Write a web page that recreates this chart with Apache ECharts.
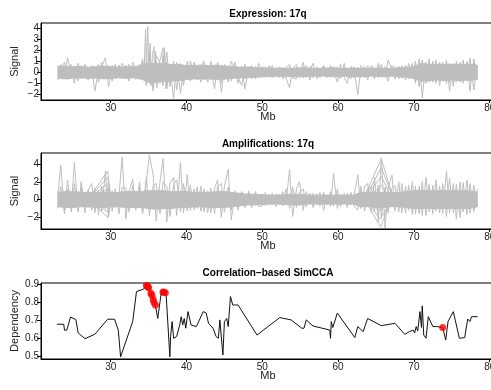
<!DOCTYPE html>
<html>
<head>
<meta charset="utf-8">
<script src="https://cdn.jsdelivr.net/npm/echarts@6/dist/echarts.min.js"></script>
<style>html,body{margin:0;padding:0;background:#fff}#c{width:491px;height:390px}</style>
</head>
<body>
<div id="c"></div>
<script>
// ---------- data ----------
const xTicks = [30, 40, 50, 60, 70, 80];
const exprTicks = [-2, -1, 0, 1, 2, 3, 4];
const ampTicks = [-2, 0, 2, 4];
const depTicks = [0.5, 0.6, 0.7, 0.8, 0.9];

const probeMb = [
  23.0, 23.4, 23.9, 24.3, 24.8, 25.2, 25.7, 26.1, 26.6, 27.0,
  27.5, 27.9, 28.4, 28.8, 29.3, 29.7, 30.2, 30.6, 31.1, 31.5,
  32.0, 32.4, 32.9, 33.3, 33.8, 34.2, 34.7, 35.1, 35.6, 36.0,
  36.5, 36.9, 37.4, 37.8, 38.3, 38.7, 39.2, 39.6, 40.1, 40.5,
  41.0, 41.4, 41.9, 42.3, 42.8, 43.2, 43.7, 44.1, 44.6, 45.0,
  45.5, 45.9, 46.4, 46.8, 47.3, 47.7, 48.2, 48.6, 49.1, 49.5,
  50.0, 50.4, 50.9, 51.3, 51.8, 52.2, 52.7, 53.1, 53.6, 54.0,
  54.5, 54.9, 55.4, 55.8, 56.3, 56.7, 57.2, 57.6, 58.1, 58.5,
  59.0, 59.4, 59.9, 60.3, 60.8, 61.2, 61.7, 62.1, 62.6, 63.0,
  63.5, 63.9, 64.4, 64.8, 65.3, 65.7, 66.2, 66.6, 67.1, 67.5,
  68.0, 68.4, 68.9, 69.3, 69.8, 70.2, 70.7, 71.1, 71.6, 72.0,
  72.5, 72.9, 73.4, 73.8, 74.3, 74.7, 75.2, 75.6, 76.1, 76.5,
  77.0, 77.4, 77.9, 78.4
];

// dense core of the sample curves (upper / lower edge of the gray band)
const bandMb = [
  23.0, 24, 25, 26, 27, 28, 29, 30, 31, 32,
  33, 34, 35, 36, 37, 38, 39, 40, 41, 42,
  43, 44, 45, 46, 47, 48, 49, 50, 51, 52,
  53, 54, 55, 56, 57, 58, 59, 60, 61, 62,
  63, 64, 65, 66, 67, 68, 69, 70, 71, 72,
  73, 74, 75, 76, 77, 78, 78.4
];
const exprHigh = [
  0.5,0.55,0.5,0.5,0.45,0.5,0.55,0.5,0.45,0.5,
  0.5,0.6,0.8,0.8,0.75,0.7,0.7,0.6,0.6,0.65,
  0.6,0.6,0.55,0.5,0.45,0.45,0.4,0.4,0.35,0.35,
  0.35,0.35,0.4,0.35,0.35,0.35,0.4,0.35,0.35,0.35,
  0.35,0.35,0.35,0.35,0.35,0.4,0.4,0.5,0.8,0.7,
  0.7,0.7,0.7,0.7,0.7,0.7,0.6
];
const exprLow = [
  -0.55,-0.6,-0.55,-0.5,-0.55,-0.5,-0.6,-0.55,-0.5,-0.55,
  -0.5,-0.6,-0.9,-0.9,-0.8,-0.8,-0.75,-0.65,-0.6,-0.6,
  -0.6,-0.65,-0.6,-0.55,-0.5,-0.5,-0.45,-0.4,-0.4,-0.35,
  -0.4,-0.4,-0.4,-0.4,-0.35,-0.35,-0.4,-0.4,-0.35,-0.4,
  -0.4,-0.35,-0.35,-0.4,-0.35,-0.4,-0.45,-0.55,-0.8,-0.75,
  -0.7,-0.75,-0.7,-0.75,-0.7,-0.7,-0.6
];
const ampHigh = [
  0.8,0.9,0.9,0.8,0.8,0.8,0.8,0.8,0.8,0.9,
  0.9,0.9,1.0,1.0,1.0,0.9,0.9,0.9,0.8,0.8,
  0.8,0.9,0.9,0.8,0.7,0.6,0.6,0.55,0.5,0.5,
  0.55,0.6,0.6,0.5,0.5,0.5,0.5,0.5,0.5,0.5,
  0.8,0.8,0.8,0.8,0.8,0.8,0.9,1.0,1.0,1.0,
  1.0,1.0,1.0,1.0,1.0,0.9,0.8
];
const ampLow = [
  -0.8,-0.9,-0.9,-0.8,-0.8,-0.9,-0.9,-0.8,-0.8,-0.9,
  -0.9,-0.9,-1.0,-1.1,-1.0,-1.0,-0.9,-0.9,-0.8,-0.8,
  -0.9,-0.9,-0.9,-0.8,-0.7,-0.6,-0.6,-0.55,-0.5,-0.5,
  -0.55,-0.6,-0.6,-0.5,-0.5,-0.5,-0.5,-0.5,-0.5,-0.5,
  -0.8,-0.8,-0.9,-0.9,-0.8,-0.8,-0.9,-1.0,-1.0,-1.0,
  -1.0,-1.0,-1.0,-1.0,-1.0,-0.9,-0.8
];

const exprA = [
  0.6,-0.6,0.55,-0.65,0.7,-0.55,0.6,-0.6,0.65,-0.7,
  0.6,-0.55,0.7,-0.6,0.55,-0.65,0.6,-0.6,0.65,-0.55,
  0.6,-0.6,0.55,-0.65,0.7,-0.7,0.9,-1.0,0.8,-0.9,
  0.7,-0.8,0.9,-0.7,0.65,-0.8,0.7,-0.75,0.6,-0.65,
  0.7,-0.6,0.65,-0.7,0.6,-0.65,0.7,-0.6,0.65,-0.7,
  0.6,-0.55,0.6,-0.6,0.55,-0.6,0.5,-0.55,0.5,-0.5,
  0.5,-0.45,0.5,-0.5,0.45,-0.5,0.45,-0.45,0.5,-0.5,
  0.45,-0.5,0.5,-0.45,0.5,-0.5,0.45,-0.45,0.5,-0.5,
  0.5,-0.45,0.5,-0.5,0.45,-0.45,0.5,-0.5,0.45,-0.5,
  0.5,-0.45,0.45,-0.5,0.5,-0.45,0.5,-0.5,0.45,-0.5,
  0.5,-0.55,0.6,-0.6,0.65,-0.8,0.9,-0.85,0.8,-0.9,
  0.8,-0.85,0.9,-0.8,0.85,-0.9,0.8,-0.85,0.9,-0.8,
  0.85,-0.8,0.8,-0.7
];
const exprB = [
  -0.35,0.4,-0.4,0.3,-0.35,0.45,-0.4,0.35,-0.3,0.4,
  -0.4,0.35,-0.3,0.4,-0.45,0.35,-0.4,0.3,-0.35,0.4,
  -0.35,0.4,-0.4,0.35,-0.45,0.5,-0.6,0.7,-0.55,0.6,
  -0.5,0.55,-0.6,0.5,-0.45,0.5,-0.55,0.45,-0.4,0.45,
  -0.45,0.4,-0.5,0.45,-0.4,0.45,-0.5,0.4,-0.45,0.5,
  -0.4,0.35,-0.4,0.4,-0.35,0.4,-0.3,0.35,-0.3,0.3,
  -0.3,0.3,-0.25,0.3,-0.3,0.25,-0.3,0.3,-0.25,0.3,
  -0.3,0.25,-0.3,0.3,-0.25,0.3,-0.3,0.25,-0.3,0.3,
  -0.25,0.3,-0.3,0.25,-0.3,0.3,-0.25,0.3,-0.3,0.25,
  -0.3,0.3,-0.25,0.3,-0.3,0.25,-0.3,0.3,-0.25,0.3,
  -0.3,0.35,-0.4,0.4,-0.45,0.55,-0.6,0.6,-0.55,0.6,
  -0.55,0.6,-0.6,0.55,-0.6,0.6,-0.55,0.6,-0.6,0.55,
  -0.6,0.55,-0.5,0.5
];
const exprC = [
  0.1,0.7,-0.2,1.3,-0.1,0.2,-0.8,0.6,0.0,-0.3,
  0.3,-1.7,0.2,0.5,1.3,-1.3,0.1,-0.4,0.6,0.0,
  -0.2,0.7,0.1,-0.4,0.3,1.0,-1.2,0.5,-1.7,1.0,
  -1.0,1.5,-1.5,0.6,-2.4,0.9,-1.9,0.4,-0.6,1.0,
  0.0,-0.7,0.5,1.0,-0.9,0.3,-1.5,0.8,-1.8,0.4,
  -0.9,1.0,0.2,-1.0,0.5,-1.5,0.3,0.6,-0.3,0.8,
  0.0,-0.4,0.6,0.1,-0.3,0.5,0.2,-0.5,-1.4,0.3,
  0.7,-0.2,0.9,-0.3,0.2,0.8,-0.6,0.3,0.5,-0.4,
  0.6,0.1,-0.9,0.7,-0.4,-1.0,0.5,0.2,-2.0,0.3,
  -0.5,0.6,0.1,-0.6,0.8,0.0,-0.4,1.1,0.2,-0.6,
  0.5,-0.5,0.6,0.0,0.8,-1.0,1.2,-2.3,0.9,-0.8,
  1.0,-1.0,0.7,-0.8,1.1,-1.7,0.6,-0.9,0.8,-1.0,
  1.0,-1.7,1.2,-0.5
];
const exprD = [
  -0.7,0.3,0.9,-0.4,0.5,-1.0,0.8,-0.2,0.7,0.2,
  -0.6,0.4,-0.9,0.9,-0.5,0.6,-0.8,0.7,-0.3,0.8,
  0.4,-0.8,0.9,0.2,-0.7,1.2,-1.0,2.0,-1.3,1.5,
  0.9,-1.2,1.8,-1.3,1.0,-1.6,0.8,-1.2,1.0,-0.8,
  0.9,0.1,-0.9,0.7,-0.5,1.0,-0.6,0.9,-1.0,0.7,
  0.2,-0.8,0.9,-0.5,-1.2,0.7,-0.3,0.5,-0.6,0.3,
  -0.5,0.5,-0.3,0.6,-0.4,0.2,-0.6,0.4,0.7,-0.5,
  -0.6,0.3,-0.5,0.6,-0.7,0.2,0.4,-0.5,0.6,-0.2,
  -0.4,0.5,0.3,-0.6,0.8,-0.3,-0.6,0.5,-0.4,0.6,
  0.3,-0.7,0.6,0.4,-0.5,0.7,-0.3,-0.8,0.6,0.4,
  -0.6,0.6,-0.7,0.8,-0.6,1.0,-1.3,1.1,-1.0,1.2,
  -0.9,1.1,-1.2,0.9,-1.0,0.8,-1.3,1.0,-0.9,1.1,
  -0.8,1.3,-1.6,0.6
];
const exprPeakMb = [34.4,34.6,34.7,34.9,35.0,35.2,35.3,35.5,35.7,35.8,35.9,36.1,36.4,36.9,37.0,37.1,37.3,37.6];
const exprPeakVal = [0.0,3.9,0.2,4.1,-0.5,2.6,-1.2,1.5,2.3,-0.8,1.9,-1.4,0.8,2.2,-0.4,2.2,-1.5,0.3];

const ampA = [
  0.9,-0.8,0.8,-0.9,0.85,-0.8,0.9,-0.85,0.8,-0.9,
  0.85,-0.9,0.8,-0.85,0.9,-0.8,0.85,-0.9,0.8,-0.85,
  0.9,-0.8,0.85,-0.9,0.8,-0.95,1.0,-1.0,0.95,-1.0,
  1.0,-0.95,0.9,-1.0,0.95,-0.9,1.0,-0.95,0.9,-0.85,
  0.8,-0.9,0.85,-0.8,0.9,-0.85,0.8,-0.9,0.95,-0.9,
  0.85,-0.8,0.7,-0.75,0.7,-0.7,0.65,-0.7,0.65,-0.6,
  0.6,-0.6,0.55,-0.6,0.55,-0.55,0.6,-0.6,0.65,-0.6,
  0.6,-0.65,0.6,-0.55,0.6,-0.6,0.55,-0.6,0.6,-0.55,
  0.6,-0.6,0.65,-0.6,0.55,-0.6,0.6,-0.55,0.6,-0.7,
  0.8,-0.8,0.85,-0.9,0.9,-1.0,0.9,-0.8,0.8,-0.75,
  0.8,-0.85,0.9,-0.9,0.95,-1.0,1.0,-0.95,1.0,-1.0,
  0.95,-1.0,1.0,-0.95,1.0,-1.0,0.95,-1.0,1.0,-0.95,
  1.0,-0.95,0.9,-0.8
];
const ampB = [
  -0.6,0.55,-0.6,0.5,-0.55,0.6,-0.5,0.55,-0.6,0.5,
  -0.55,0.6,-0.5,0.55,-0.6,0.5,-0.55,0.6,-0.5,0.55,
  -0.6,0.5,-0.55,0.6,-0.5,0.65,-0.7,0.7,-0.65,0.7,
  -0.7,0.65,-0.6,0.7,-0.65,0.6,-0.7,0.65,-0.6,0.55,
  -0.5,0.6,-0.55,0.5,-0.6,0.55,-0.5,0.6,-0.65,0.6,
  -0.55,0.5,-0.45,0.45,-0.45,0.4,-0.4,0.45,-0.4,0.35,
  -0.35,0.35,-0.3,0.35,-0.3,0.3,-0.35,0.35,-0.4,0.35,
  -0.35,0.4,-0.35,0.3,-0.35,0.35,-0.3,0.35,-0.35,0.3,
  -0.35,0.35,-0.4,0.35,-0.3,0.35,-0.35,0.3,-0.35,0.45,
  -0.5,0.5,-0.55,0.6,-0.6,0.7,-0.6,0.5,-0.5,0.45,
  -0.5,0.55,-0.6,0.6,-0.65,0.7,-0.7,0.65,-0.7,0.7,
  -0.65,0.7,-0.7,0.65,-0.7,0.7,-0.65,0.7,-0.7,0.65,
  -0.7,0.65,-0.6,0.5
];
const ampC = [
  0.2,3.9,-1.2,2.2,-1.0,4.2,-1.4,2.0,-0.8,1.0,
  1.8,-1.5,1.0,-1.3,3.2,-2.0,1.0,-0.8,0.5,4.8,
  -2.2,0.9,2.3,-1.0,1.5,-1.6,2.0,5.0,2.8,-2.4,
  2.0,4.6,-2.5,1.8,2.5,-1.8,4.2,-1.5,2.8,-1.2,
  1.2,-1.0,1.5,-1.4,1.0,-1.5,1.3,2.2,-2.0,1.5,
  3.4,-2.3,0.6,-1.2,0.8,-0.9,1.0,-0.6,0.9,-0.4,
  0.6,-0.7,0.5,-0.4,0.6,-0.5,0.9,-0.6,3.4,-1.9,
  1.2,2.0,-1.2,0.9,-0.5,0.7,-0.6,0.8,-1.2,0.5,
  -0.8,3.0,-1.0,0.6,-0.5,0.7,-0.6,0.5,2.8,-1.0,
  1.5,1.8,-1.5,2.5,-2.5,4.7,-3.2,1.2,2.8,-1.3,
  2.0,-1.5,1.5,-1.2,2.0,-1.6,1.5,-1.8,2.5,-1.4,
  1.6,-1.3,1.5,-1.6,3.2,-1.5,1.8,-2.2,2.0,-1.4,
  2.2,-1.5,1.6,-0.8
];
const ampD = [
  -1.0,1.5,-1.6,1.2,-1.4,1.8,-1.2,1.4,-1.5,1.1,
  -1.2,1.3,-1.7,1.5,-1.1,1.6,-1.3,1.2,-1.6,1.4,
  1.3,-1.4,1.6,-1.2,2.0,-1.5,2.5,-1.8,1.6,1.8,
  -1.6,2.0,1.5,-1.9,1.7,2.2,-1.4,1.8,-1.3,1.6,
  -1.2,1.4,-1.3,1.2,-1.5,1.3,-1.6,1.5,1.8,-1.4,
  1.4,-1.2,1.0,-0.8,0.9,-0.7,0.8,-0.9,0.7,-0.8,
  -0.7,0.8,-0.6,0.7,-0.8,0.6,-0.7,1.2,-1.0,1.4,
  -0.9,0.8,1.2,-0.8,0.7,-0.9,0.6,-0.7,0.8,-0.6,
  0.9,-0.7,1.2,-0.8,0.7,-0.9,0.8,-0.7,-1.2,1.5,
  -1.3,1.2,1.5,-1.4,1.6,-2.0,1.4,-1.5,1.3,1.6,
  -1.4,1.8,-1.5,1.6,-1.7,1.5,-1.6,2.0,-1.8,1.7,
  -1.6,2.2,-1.5,1.8,-1.9,2.4,-1.5,1.7,-2.0,1.9,
  -1.7,1.8,-1.4,1.2
];
const ampFanAMb = [27.0,29.6,30.0,29.6,27.1,29.6,30.0,29.6,27.0,29.6,30.0,29.6,27.1,29.6,30.0];
const ampFanAVal = [0.0,3.2,0.2,2.5,0.1,1.8,-0.1,1.2,-0.1,-0.8,0.0,-1.4,0.0,-2.0,0.1];
const ampFanBMb = [63.4,65.7,67.2,65.7,63.5,65.7,67.3,65.7,63.4,65.6,67.2,65.6,63.5,65.6,67.0];
const ampFanBVal = [0.2,4.6,0.3,3.6,0.1,2.6,-0.2,1.6,-0.2,-1.2,0.2,-2.2,0.0,-3.1,0.0];

const depMb = [
  22.9,23.8,23.9,24.2,24.7,25.4,25.7,26.6,27.9,29.6,
  30.5,31.0,31.2,31.3,32.9,33.4,34.3,34.7,35.0,35.45,
  35.7,35.9,36.2,36.7,37.3,37.8,37.9,38.1,38.3,38.7,
  39.1,39.3,39.5,39.7,39.9,40.2,40.4,40.6,41.3,42.2,
  42.6,42.9,43.5,43.9,44.2,44.4,44.8,45.0,45.3,45.5,
  45.8,46.1,46.8,49.3,52.3,53.8,55.2,55.5,55.8,56.7,
  58.9,59.0,59.1,59.3,59.9,62.2,62.6,63.3,63.9,65.7,
  67.5,68.8,69.4,69.9,70.1,70.3,70.5,70.8,71.0,71.1,
  71.3,71.6,71.9,72.5,73.0,73.8,74.2,74.5,75.2,76.0,
  76.7,77.1,77.4,77.6,78.4
];
const depVal = [
  0.678,0.678,0.645,0.645,0.718,0.704,0.63,0.598,0.622,0.706,
  0.706,0.645,0.638,0.497,0.693,0.86,0.872,0.893,0.88,0.839,
  0.80,0.783,0.71,0.863,0.85,0.497,0.61,0.693,0.60,0.61,
  0.674,0.72,0.674,0.71,0.656,0.748,0.748,0.674,0.665,0.748,
  0.74,0.683,0.656,0.61,0.60,0.702,0.507,0.693,0.71,0.665,
  0.832,0.785,0.785,0.618,0.715,0.702,0.656,0.656,0.702,0.668,
  0.646,0.60,0.693,0.66,0.74,0.604,0.665,0.637,0.71,0.67,
  0.683,0.622,0.637,0.646,0.63,0.665,0.64,0.748,0.66,0.78,
  0.618,0.60,0.72,0.665,0.665,0.66,0.59,0.693,0.748,0.60,
  0.604,0.707,0.693,0.72,0.72
];
const hitMb = [34.7,34.8,34.9,35.0,35.3,35.45,35.6,35.7,35.9,36.9,37.0,37.2,73.8];
const hitVal = [0.893,0.89,0.887,0.88,0.85,0.839,0.815,0.80,0.785,0.857,0.855,0.853,0.66];

// ---------- chart ----------
const FONT = 'Liberation Sans';
const GRAY = '#BEBEBE';
const zip = (xs, ys) => xs.map((x, i) => [x, ys[i]]).filter(p => p[1] !== undefined);
const minus = v => String(v).replace('-', '\u2212');

const grids = [
  { left: 41, top: 23, width: 454, height: 77 },
  { left: 41, top: 153, width: 454, height: 76 },
  { left: 41, top: 283, width: 454, height: 76 }
];
const yDefs = [
  { min: -2.5, max: 4.43, ticks: exprTicks, name: 'Signal', fmt: minus },
  { min: -3.31, max: 5.24, ticks: ampTicks, name: 'Signal', fmt: minus },
  { min: 0.485, max: 0.907, ticks: depTicks, name: 'Dependency', fmt: v => Number(v).toFixed(1) }
];

const option = {
  animation: false,
  backgroundColor: '#fff',
  grid: grids.map(g => Object.assign({ show: true, borderColor: '#000', borderWidth: 1, backgroundColor: 'transparent', containLabel: false, outerBoundsMode: 'none' }, g)),
  xAxis: grids.map((g, i) => ({
    gridIndex: i, type: 'value', min: 20.8, max: 80.7,
    axisLine: { show: true, onZero: false, lineStyle: { color: '#000', width: 1 } },
    axisTick: { show: true, customValues: xTicks, length: 3, lineStyle: { color: '#000' } },
    axisLabel: { customValues: xTicks, fontSize: 10, fontFamily: FONT, color: '#222', margin: 3, showMinLabel: true, showMaxLabel: true, hideOverlap: false },
    splitLine: { show: false },
    name: 'Mb', nameLocation: 'middle', nameGap: 11, nameMoveOverlap: false,
    nameTextStyle: { fontSize: 11, fontFamily: FONT, color: '#222' }
  })),
  yAxis: yDefs.map((d, i) => ({
    gridIndex: i, type: 'value', min: d.min, max: d.max,
    axisLine: { show: true, onZero: false, lineStyle: { color: '#000', width: 1 } },
    axisTick: { show: true, customValues: d.ticks, length: 4, lineStyle: { color: '#000' } },
    axisLabel: { customValues: d.ticks, fontSize: 10, fontFamily: FONT, color: '#222', margin: 2, formatter: d.fmt },
    splitLine: { show: false },
    name: d.name, nameLocation: 'middle', nameGap: 21, nameRotate: 90, nameMoveOverlap: false,
    nameTextStyle: { fontSize: 11, fontFamily: FONT, color: '#222' }
  })),
  graphic: [
    { type: 'text', x: 268, y: 14, style: { text: 'Expression: 17q', font: 'bold 10px "Liberation Sans"', fill: '#000', textAlign: 'center', textVerticalAlign: 'middle' } },
    { type: 'text', x: 268, y: 144, style: { text: 'Amplifications: 17q', font: 'bold 10px "Liberation Sans"', fill: '#000', textAlign: 'center', textVerticalAlign: 'middle' } },
    { type: 'text', x: 268, y: 273, style: { text: 'Correlation\u2212based SimCCA', font: 'bold 10px "Liberation Sans"', fill: '#000', textAlign: 'center', textVerticalAlign: 'middle' } }
  ],
  series: []
};

function grayLine(idx, data) {
  return { type: 'line', xAxisIndex: idx, yAxisIndex: idx, data: data, showSymbol: false, symbol: 'none',
    lineStyle: { color: GRAY, width: 1 }, silent: true, z: 2 };
}
function grayBand(idx, data, origin) {
  return { type: 'line', xAxisIndex: idx, yAxisIndex: idx, data: data, showSymbol: false, symbol: 'none',
    lineStyle: { color: GRAY, width: 1 }, areaStyle: { color: GRAY, opacity: 1, origin: origin }, silent: true, z: 2 };
}
option.series.push(
  grayBand(0, zip(bandMb, exprHigh), -0.2),
  grayBand(0, zip(bandMb, exprLow), 0.2),
  grayLine(0, zip(probeMb, exprD)),
  grayLine(0, zip(probeMb, exprC)),
  grayLine(0, zip(probeMb, exprA)),
  grayLine(0, zip(probeMb, exprB)),
  grayLine(0, zip(exprPeakMb, exprPeakVal)),
  grayBand(1, zip(bandMb, ampHigh), -0.3),
  grayBand(1, zip(bandMb, ampLow), 0.3),
  grayLine(1, zip(probeMb, ampD)),
  grayLine(1, zip(probeMb, ampC)),
  grayLine(1, zip(ampFanAMb, ampFanAVal)),
  grayLine(1, zip(ampFanBMb, ampFanBVal)),
  grayLine(1, zip(probeMb, ampA)),
  grayLine(1, zip(probeMb, ampB)),
  { type: 'line', xAxisIndex: 2, yAxisIndex: 2, data: zip(depMb, depVal), showSymbol: false, symbol: 'none',
    lineStyle: { color: '#111', width: 1 }, z: 3 },
  { type: 'scatter', xAxisIndex: 2, yAxisIndex: 2, data: zip(hitMb, hitVal), symbolSize: 7,
    itemStyle: { color: '#FF0000' }, z: 4 }
);

const chart = echarts.init(document.getElementById('c'), null, { renderer: 'canvas' });
chart.setOption(option);
</script>
</body>
</html>
